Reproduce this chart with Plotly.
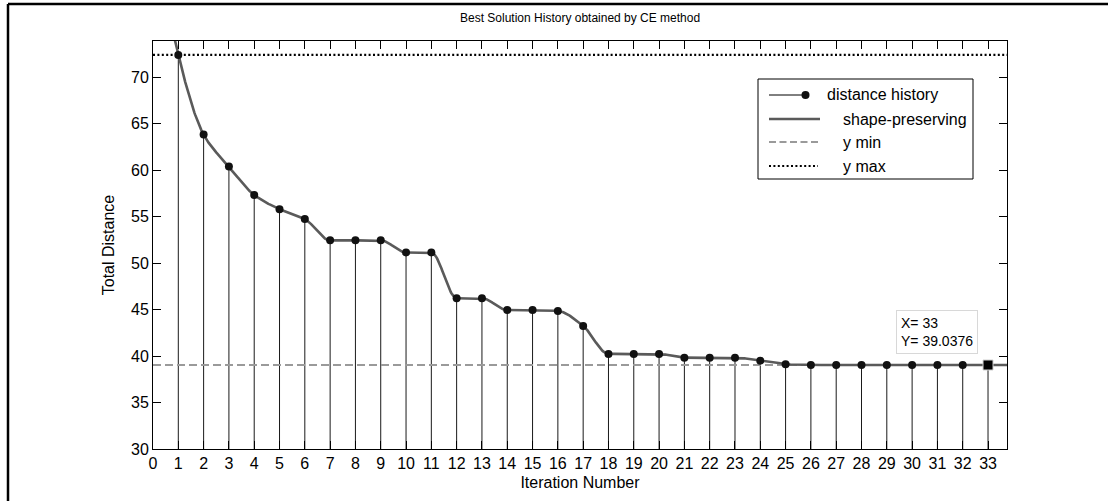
import numpy as np
import plotly.graph_objects as go

# ---------------- data ----------------
iterations = list(range(1, 34))
distance = [72.4, 63.83, 60.39, 57.34, 55.8, 54.76, 52.45, 52.45, 52.45, 51.15,
            51.15, 46.22, 46.22, 44.95, 44.95, 44.85, 43.24, 40.23, 40.23, 40.23,
            39.83, 39.83, 39.83, 39.5, 39.12, 39.0376, 39.0376, 39.0376, 39.0376,
            39.0376, 39.0376, 39.0376, 39.0376]
x_ticks = list(range(0, 34))
y_ticks = [30, 35, 40, 45, 50, 55, 60, 65, 70]
x_range = [0, 33.75]
y_range = [30, 73.9]
tip_x, tip_y = 33, 39.0376

title_text = "Best Solution History obtained by CE method"
legend_labels = ["distance history", "shape-preserving", "y min", "y max"]

# ---------------- shape-preserving (pchip) interpolant ----------------
def pchip_slopes(x, y):
    h = np.diff(x)
    d = np.diff(y) / h
    n = len(x)
    s = np.zeros(n)
    for k in range(1, n - 1):
        if d[k - 1] * d[k] > 0:
            w1 = 2 * h[k] + h[k - 1]
            w2 = h[k] + 2 * h[k - 1]
            s[k] = (w1 + w2) / (w1 / d[k - 1] + w2 / d[k])
        else:
            s[k] = 0.0

    def end(h0, h1, d0, d1):
        v = ((2 * h0 + h1) * d0 - h0 * d1) / (h0 + h1)
        if np.sign(v) != np.sign(d0):
            v = 0.0
        elif np.sign(d0) != np.sign(d1) and abs(v) > abs(3 * d0):
            v = 3 * d0
        return v

    s[0] = end(h[0], h[1], d[0], d[1])
    s[-1] = end(h[-1], h[-2], d[-1], d[-2])
    return s


def pchip_eval(x, y, xq):
    x = np.asarray(x, float)
    y = np.asarray(y, float)
    s = pchip_slopes(x, y)
    h = np.diff(x)
    d = np.diff(y) / h
    idx = np.clip(np.searchsorted(x, xq, side="right") - 1, 0, len(x) - 2)
    t = xq - x[idx]
    hk = h[idx]
    c = (3 * d[idx] - 2 * s[idx] - s[idx + 1]) / hk
    b = (s[idx] - 2 * d[idx] + s[idx + 1]) / hk ** 2
    return y[idx] + t * (s[idx] + t * (c + t * b))


xq = np.linspace(x_range[0], x_range[1], 1200)
yq = pchip_eval(iterations, distance, xq)

y_min = min(distance)
y_max = max(distance)

# ---------------- figure ----------------
fig = go.Figure()

# stems
sx, sy = [], []
for xi, yi in zip(iterations, distance):
    sx += [xi, xi, None]
    sy += [y_range[0], yi, None]
fig.add_trace(go.Scatter(x=sx, y=sy, mode="lines",
                         line=dict(color="#1a1a1a", width=1),
                         hoverinfo="skip", showlegend=False))

# y min / y max
fig.add_trace(go.Scatter(x=x_range, y=[y_min, y_min], mode="lines",
                         line=dict(color="#9a9a9a", width=2.2, dash="8px,4px"),
                         showlegend=False, hoverinfo="skip"))
fig.add_trace(go.Scatter(x=x_range, y=[y_max, y_max], mode="lines",
                         line=dict(color="#000000", width=2.2, dash="2px,2.4px"),
                         showlegend=False, hoverinfo="skip"))

# shape-preserving interpolant
fig.add_trace(go.Scatter(x=xq, y=yq, mode="lines",
                         line=dict(color="#5a5a5a", width=2.6),
                         showlegend=False, hoverinfo="skip"))

# markers
fig.add_trace(go.Scatter(x=iterations, y=distance, mode="markers",
                         marker=dict(color="#111111", size=8, symbol="circle"),
                         showlegend=False, hoverinfo="skip"))

# datatip square
fig.add_trace(go.Scatter(x=[tip_x], y=[tip_y], mode="markers",
                         marker=dict(color="#000000", size=10, symbol="square",
                                     line=dict(color="#d0d0d0", width=1)),
                         showlegend=False, hoverinfo="skip"))

# ---------------- layout helpers (pixel -> paper) ----------------
L, R, T, B = 153, 1007, 41, 449
W, H = 1108, 501


def px(x):
    return (x - L) / (R - L)


def py(y):
    return (B - y) / (B - T)


font_main = "Liberation Sans, Arial, Helvetica, sans-serif"
fs = 16
shapes = []
annotations = []

# outer frame (top + left)
shapes.append(dict(type="line", xref="paper", yref="paper", x0=px(8), x1=px(W),
                   y0=py(4), y1=py(4), line=dict(color="black", width=2.5)))
shapes.append(dict(type="line", xref="paper", yref="paper", x0=px(8), x1=px(8),
                   y0=py(4), y1=py(H), line=dict(color="black", width=2.5)))

# legend box
lg_l, lg_t, lg_r, lg_b = 758, 79, 973, 179
shapes.append(dict(type="rect", xref="paper", yref="paper", x0=px(lg_l), x1=px(lg_r),
                   y0=py(lg_b), y1=py(lg_t), line=dict(color="black", width=1),
                   fillcolor="white", layer="above"))
rows = [95, 119, 142, 166]
shapes.append(dict(type="line", xref="paper", yref="paper", x0=px(769), x1=px(805),
                   y0=py(rows[0]), y1=py(rows[0]), line=dict(color="black", width=1),
                   layer="above"))
shapes.append(dict(type="circle", xref="paper", yref="paper", x0=px(801.5), x1=px(809.5),
                   y0=py(rows[0] + 4), y1=py(rows[0] - 4), line=dict(color="#111", width=0),
                   fillcolor="#111111", layer="above"))
shapes.append(dict(type="line", xref="paper", yref="paper", x0=px(769), x1=px(820),
                   y0=py(rows[1]), y1=py(rows[1]), line=dict(color="#5a5a5a", width=2.6),
                   layer="above"))
shapes.append(dict(type="line", xref="paper", yref="paper", x0=px(769), x1=px(818),
                   y0=py(rows[2]), y1=py(rows[2]),
                   line=dict(color="#9a9a9a", width=2.2, dash="7px,3.5px"), layer="above"))
shapes.append(dict(type="line", xref="paper", yref="paper", x0=px(769), x1=px(818),
                   y0=py(rows[3]), y1=py(rows[3]),
                   line=dict(color="black", width=2.2, dash="2px,2.4px"), layer="above"))
text_x = [825, 841, 841, 841]
for lab, r, tx in zip(legend_labels, rows, text_x):
    annotations.append(dict(xref="paper", yref="paper", x=px(tx), y=py(r), text=lab,
                            showarrow=False, xanchor="left", yanchor="middle",
                            font=dict(family=font_main, size=fs, color="black")))

# datatip box
annotations.append(dict(xref="paper", yref="paper", x=px(896), y=py(310),
                        text="X= 33<br>Y= 39.0376", showarrow=False,
                        xanchor="left", yanchor="top", align="left",
                        bgcolor="white", bordercolor="#d8d8d8", borderwidth=1,
                        borderpad=4,
                        font=dict(family=font_main, size=14, color="black")))

# title
annotations.append(dict(xref="paper", yref="paper", x=px(580), y=py(18), text=title_text,
                        showarrow=False, xanchor="center", yanchor="middle",
                        font=dict(family=font_main, size=12, color="black")))

axis_common = dict(showline=True, linecolor="black", linewidth=1, mirror="ticks",
                   ticks="inside", ticklen=8, tickcolor="black", tickwidth=1,
                   showgrid=False, zeroline=False,
                   tickfont=dict(family=font_main, size=fs, color="black"))

fig.update_layout(
    width=W, height=H,
    margin=dict(l=L, r=W - R, t=T, b=H - B, pad=0),
    paper_bgcolor="white", plot_bgcolor="white",
    showlegend=False,
    shapes=shapes, annotations=annotations,
    xaxis=dict(range=x_range, tickmode="array", tickvals=x_ticks,
               ticktext=[str(v) for v in x_ticks],
               title=dict(text="Iteration Number", standoff=5,
                          font=dict(family=font_main, size=fs, color="black")),
               **axis_common),
    yaxis=dict(range=y_range, tickmode="array", tickvals=y_ticks,
               ticktext=[str(v) for v in y_ticks],
               title=dict(text="Total Distance", standoff=12,
                          font=dict(family=font_main, size=fs, color="black")),
               **axis_common),
)

fig.write_html("out.html",
               config={"displayModeBar": False},
               post_script=("document.body.style.margin='0';"
                            "document.body.style.padding='0';"
                            "document.body.style.overflow='hidden';"
                            "document.documentElement.style.overflow='hidden';"))
